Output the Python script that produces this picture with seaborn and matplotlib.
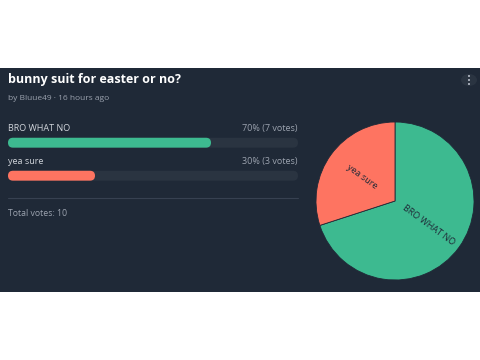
import matplotlib
matplotlib.use('Agg')
import matplotlib.pyplot as plt
import seaborn as sns
import pandas as pd
from matplotlib.patches import Rectangle, FancyBboxPatch, Circle

title = 'bunny suit for easter or no?'
subtitle = 'by Bluue49 · 16 hours ago'
options = ['BRO WHAT NO', 'yea sure']
votes = [7, 3]
colors = ['#3dba90', '#fe7461']

BG = '#1f2937'
TRACK = '#2a3441'

sns.set_theme(style='white')
plt.rcParams['font.family'] = ['Open Sans', 'DejaVu Sans']

total = sum(votes)
df = pd.DataFrame({'option': options, 'votes': votes})
df['pct'] = df.votes / total * 100
df['track'] = 100

fig = plt.figure(figsize=(4.8, 3.6), dpi=100)
fig.patch.set_facecolor('white')
fig.patches.append(Rectangle((0, 68 / 360), 1, 224 / 360, transform=fig.transFigure,
                             facecolor=BG, edgecolor='none', zorder=-2))

fig.text(8 / 480, 1 - 80 / 360, title, color='white', fontsize=9, fontweight='bold',
         va='center', ha='left')
fig.text(8 / 480, 1 - 98 / 360, subtitle, color='#9ca3af', fontsize=6, va='center', ha='left')

# menu button
fig.patches.append(Circle((469 / 480, 1 - 80 / 360), 8 / 480, transform=fig.transFigure,
                          facecolor='#2a3441', edgecolor='none', zorder=-1))
for dy in (-4, 0, 4):
    fig.patches.append(Rectangle(((469 - 1.3) / 480, 1 - (80 + dy + 1.3) / 360), 2.6 / 480, 2.6 / 360,
                                 transform=fig.transFigure, facecolor='#9ca3af', edgecolor='none'))

# vote bars
ax = fig.add_axes([8 / 480, 1 - 192.2 / 360, 290 / 480, 66 / 360])
ax.set_facecolor('none')
sns.barplot(data=df, x='track', y='option', color=TRACK, width=0.3, ax=ax, saturation=1)
sns.barplot(data=df, x='pct', y='option', hue='option', palette=colors, width=0.3, ax=ax,
            saturation=1, legend=False)
ax.set_xlim(0, 100)
ax.set_ylim(1.5, -0.5)
ax.axis('off')

# rounded bar ends (x units per px = 100/290, y units per px = 2/66)
for p in list(ax.patches):
    x, y, w, h = p.get_x(), p.get_y(), p.get_width(), p.get_height()
    fc = p.get_facecolor()
    p.remove()
    ax.add_patch(FancyBboxPatch((x, y), w, h, boxstyle='round,pad=0,rounding_size=1.72',
                                mutation_aspect=(2 / 66) / (100 / 290),
                                facecolor=fc, edgecolor='none'))

for i, row in df.iterrows():
    ax.text(0, i - 0.42, row.option, color='#d1d5db', fontsize=6.5, va='center', ha='left')
    ax.text(100, i - 0.42, f'{row.pct:.0f}% ({row.votes} votes)', color='#9ca3af', fontsize=6.5,
            va='center', ha='right')

fig.add_artist(plt.Line2D([8 / 480, 298 / 480], [1 - 198 / 360] * 2, transform=fig.transFigure,
                          color='#374151', lw=0.8))
fig.text(8 / 480, 1 - 214 / 360, f'Total votes: {total}', color='#9ca3af', fontsize=6.3,
         va='center', ha='left')

# pie
pax = fig.add_axes([316 / 480, 1 - 280 / 360, 158 / 480, 158 / 360])
wedges, texts = pax.pie(df.votes, labels=df.option, colors=colors, startangle=90, counterclock=False,
                        labeldistance=0.52, rotatelabels=True,
                        wedgeprops=dict(edgecolor=BG, linewidth=0.6),
                        textprops=dict(color='#1f2937', fontsize=6.5))
for t in texts:
    t.set_ha('center')
    t.set_va('center')
pax.set_xlim(-1, 1)
pax.set_ylim(-1, 1)
pax.set_aspect('equal')

fig.savefig('out.png', dpi=100, facecolor=fig.get_facecolor())
